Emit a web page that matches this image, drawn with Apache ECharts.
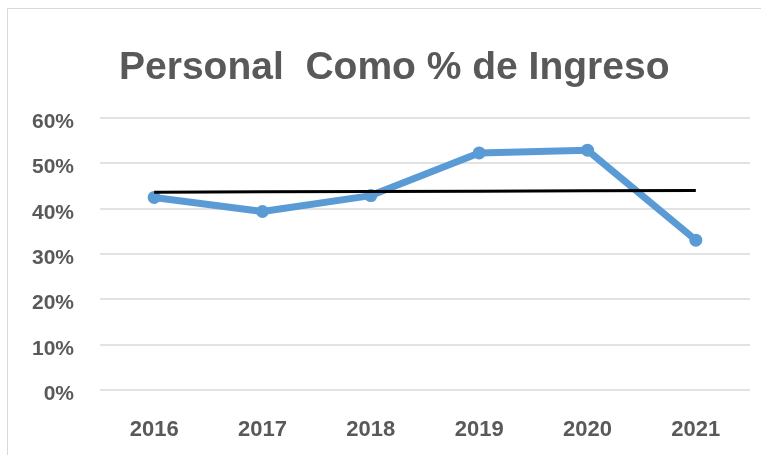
<!DOCTYPE html>
<html><head><meta charset="utf-8">
<script src="https://cdn.jsdelivr.net/npm/echarts@6/dist/echarts.min.js"></script>
<style>html,body{margin:0;padding:0;background:#fff}#c{width:761px;height:455px}</style>
</head><body><div id="c"></div>
<script>
const categories = ['2016','2017','2018','2019','2020','2021'];
const personalPct = [42.4, 39.3, 42.8, 52.2, 52.8, 33.0];
const trendPct = [43.55, 43.63, 43.71, 43.78, 43.86, 43.94];
const yTicks = [0, 10, 20, 30, 40, 50, 60];

const chart = echarts.init(document.getElementById('c'));
const grey = '#595959';
chart.setOption({
  animation: false,
  graphic: [{type:'rect', shape:{x:7.5,y:8.5,width:800,height:460}, style:{fill:'none', stroke:'#d9d9d9', lineWidth:1}}],
  title: {text:'Personal  Como % de Ingreso', left:114, top:44,
    textStyle:{fontFamily:'Liberation Sans', fontWeight:'bold', fontSize:39, color:grey}},
  grid: {left:100, right:11, top:117.5, bottom:65},
  xAxis: {type:'category', data:categories, boundaryGap:true,
    axisLine:{show:false}, axisTick:{show:false},
    axisLabel:{margin:29, color:grey, fontFamily:'Liberation Sans', fontWeight:'bold', fontSize:22}},
  yAxis: {type:'value', min:yTicks[0], max:yTicks[yTicks.length-1], interval:10,
    axisLine:{show:false}, axisTick:{show:false},
    splitLine:{lineStyle:{color:'#d9d9d9', width:1.5}},
    axisLabel:{margin:26, formatter:v=>'{a|'+v+'%}',
      rich:{a:{padding:[9,0,0,0], color:grey, fontFamily:'Liberation Sans', fontWeight:'bold', fontSize:21}}}},
  series: [
    {type:'line', data:personalPct, symbol:'circle', symbolSize:13,
      lineStyle:{color:'#5b9bd5', width:7}, itemStyle:{color:'#5b9bd5'}, z:2},
    {type:'line', data:trendPct, symbol:'none',
      lineStyle:{color:'#000', width:3}, z:3}
  ]
});
</script></body></html>
